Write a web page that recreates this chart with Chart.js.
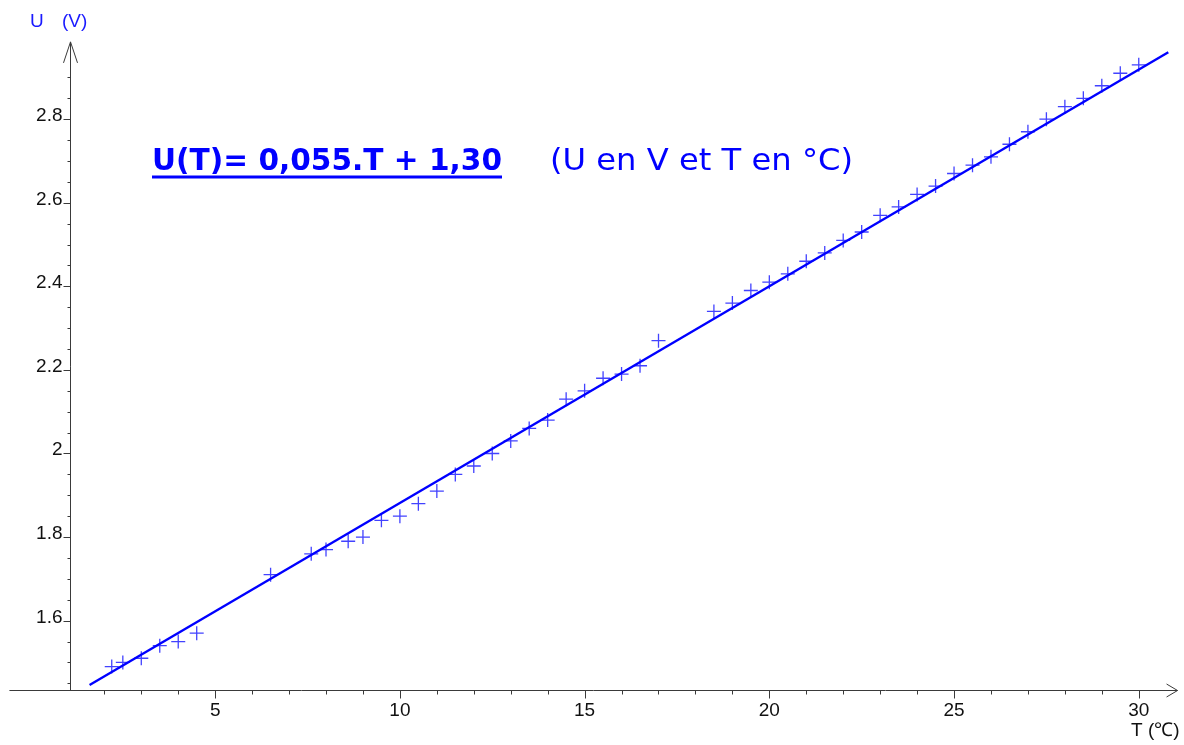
<!DOCTYPE html>
<html>
<head>
<meta charset="utf-8">
<script src="https://cdn.jsdelivr.net/npm/chart.js@4.4.1/dist/chart.umd.min.js"></script>
<style>
  html, body { margin: 0; padding: 0; background: #fff; }
  #wrap { position: relative; width: 1184px; height: 745px; }
</style>
</head>
<body>
<div id="wrap"><canvas id="uChart"></canvas></div>
<script>
// measured points: T in °C, U in V
const tempValues = [2.2, 2.5, 3, 3.5, 4, 4.5, 6.5, 7.6, 8, 8.6, 9, 9.5,
    10, 10.5, 11, 11.5, 12, 12.5, 13, 13.5, 14, 14.5, 15, 15.5, 16, 16.5, 17,
    18.5, 19, 19.5, 20, 20.5, 21, 21.5, 22, 22.5, 23, 23.5, 24, 24.5, 25, 25.5,
    26, 26.5, 27, 27.5, 28, 28.5, 29, 29.5, 30];
const voltValues = [1.49, 1.50, 1.51, 1.54, 1.55, 1.57, 1.71, 1.76, 1.77, 1.79, 1.80, 1.84,
    1.85, 1.88, 1.91, 1.95, 1.97, 2.00, 2.03, 2.06, 2.08, 2.13, 2.15, 2.18, 2.19, 2.21, 2.27,
    2.34, 2.36, 2.39, 2.41, 2.43, 2.46, 2.48, 2.51, 2.53, 2.57, 2.59, 2.62, 2.64, 2.67, 2.69,
    2.71, 2.74, 2.77, 2.80, 2.83, 2.85, 2.88, 2.91, 2.93];

// regression line as drawn (end points)
const fitT = [1.6, 30.8];
const fitU = [1.446, 2.96];

// axes
const xTickLabels = [5, 10, 15, 20, 25, 30];
const yTickLabels = [1.6, 1.8, 2, 2.2, 2.4, 2.6, 2.8];
const xMinorFrom = 2, xMinorTo = 30, xMinorStep = 1;
const yMinorFrom = 1.45, yMinorTo = 2.9, yMinorStep = 0.05;
const xCross = 1.09;      // where the U axis crosses
const yCross = 1.434;     // where the T axis crosses
const xAxisStart = -0.57, xAxisEnd = 31.05;
const yAxisEnd = 2.985;

const equationText = 'U(T)= 0,055.T + 1,30';
const unitsText = '(U en V et T en °C)';

const blue = '#0000ff';
const axisColor = '#3a3a3a';

const axesPlugin = {
    id: 'axesPlugin',
    afterDraw(chart) {
        const ctx = chart.ctx;
        const xs = chart.scales.x, ys = chart.scales.y;
        const x0 = Math.floor(xs.getPixelForValue(xCross)) + 0.5;
        const y0 = Math.round(ys.getPixelForValue(yCross)) + 0.5;
        ctx.save();
        ctx.strokeStyle = axisColor;
        ctx.lineWidth = 1;

        // T axis
        const xa = xs.getPixelForValue(xAxisStart), xb = xs.getPixelForValue(xAxisEnd);
        ctx.beginPath();
        ctx.moveTo(xa, y0); ctx.lineTo(xb, y0);
        ctx.moveTo(xb - 11, y0 - 6.5); ctx.lineTo(xb, y0); ctx.lineTo(xb - 11, y0 + 6.5);
        ctx.stroke();

        // U axis
        const yt = ys.getPixelForValue(yAxisEnd);
        ctx.beginPath();
        ctx.moveTo(x0, y0); ctx.lineTo(x0, yt);
        ctx.moveTo(x0 - 7, yt + 21); ctx.lineTo(x0, yt); ctx.lineTo(x0 + 7, yt + 21);
        ctx.stroke();

        // minor ticks
        ctx.beginPath();
        for (let t = xMinorFrom; t <= xMinorTo + 1e-9; t += xMinorStep) {
            const px = Math.round(xs.getPixelForValue(t)) + 0.5;
            const len = xTickLabels.includes(Math.round(t)) ? 8 : 4;
            ctx.moveTo(px, y0); ctx.lineTo(px, y0 + len);
        }
        for (let u = yMinorFrom; u <= yMinorTo + 1e-9; u += yMinorStep) {
            const py = Math.round(ys.getPixelForValue(u)) + 0.5;
            const major = yTickLabels.some(v => Math.abs(v - u) < 1e-6);
            ctx.moveTo(x0, py); ctx.lineTo(x0 - (major ? 7 : 3), py);
        }
        ctx.stroke();

        // tick labels
        ctx.fillStyle = '#111';
        ctx.font = '19px "Liberation Sans", Arial, sans-serif';
        ctx.textAlign = 'center';
        ctx.textBaseline = 'middle';
        xTickLabels.forEach(v => ctx.fillText(String(v), xs.getPixelForValue(v), y0 + 20));
        ctx.textAlign = 'right';
        ctx.textBaseline = 'alphabetic';
        yTickLabels.forEach(v => ctx.fillText(String(v), x0 - 8, ys.getPixelForValue(v) + 2));

        // axis titles
        ctx.textAlign = 'left';
        ctx.textBaseline = 'middle';
        ctx.fillText('T (\u2103)', 1131, 731);
        ctx.fillStyle = '#1a1aff';
        ctx.fillText('U', 30, 22);
        ctx.fillText('(V)', 62, 22);

        // equation
        ctx.fillStyle = blue;
        ctx.textBaseline = 'alphabetic';
        const drawFit = (text, font, left, width, base) => {
            ctx.font = font;
            const w = ctx.measureText(text).width;
            ctx.save();
            ctx.translate(left, base);
            ctx.scale(width / w, 1);
            ctx.fillText(text, 0, 0);
            ctx.restore();
        };
        drawFit(equationText, 'bold 31px "DejaVu Sans", sans-serif', 152, 350, 170);
        ctx.fillRect(152, 175.5, 350, 3);
        drawFit(unitsText, '31px "DejaVu Sans", sans-serif', 550, 303, 170);
        ctx.restore();
    }
};

const points = tempValues.map((t, i) => ({ x: t, y: voltValues[i] }));
const fitLine = fitT.map((t, i) => ({ x: t, y: fitU[i] }));

new Chart(document.getElementById('uChart'), {
    type: 'scatter',
    data: {
        datasets: [
            {
                label: 'fit',
                data: fitLine,
                showLine: true,
                borderColor: blue,
                borderWidth: 2.4,
                pointRadius: 0,
                clip: false
            },
            {
                label: 'mesures',
                data: points,
                pointStyle: 'cross',
                pointRadius: 7,
                borderColor: 'rgba(45, 45, 255, 0.9)',
                borderWidth: 1.3,
                clip: false
            }
        ]
    },
    options: {
        responsive: true,
        maintainAspectRatio: false,
        animation: false,
        layout: { padding: { left: 7, right: 3, top: 39.8, bottom: 55 } },
        plugins: { legend: { display: false }, tooltip: { enabled: false } },
        scales: {
            x: { type: 'linear', min: -0.6, max: 31, display: false },
            y: { type: 'linear', min: 1.434, max: 2.99, display: false }
        }
    },
    plugins: [axesPlugin]
});
</script>
</body>
</html>
